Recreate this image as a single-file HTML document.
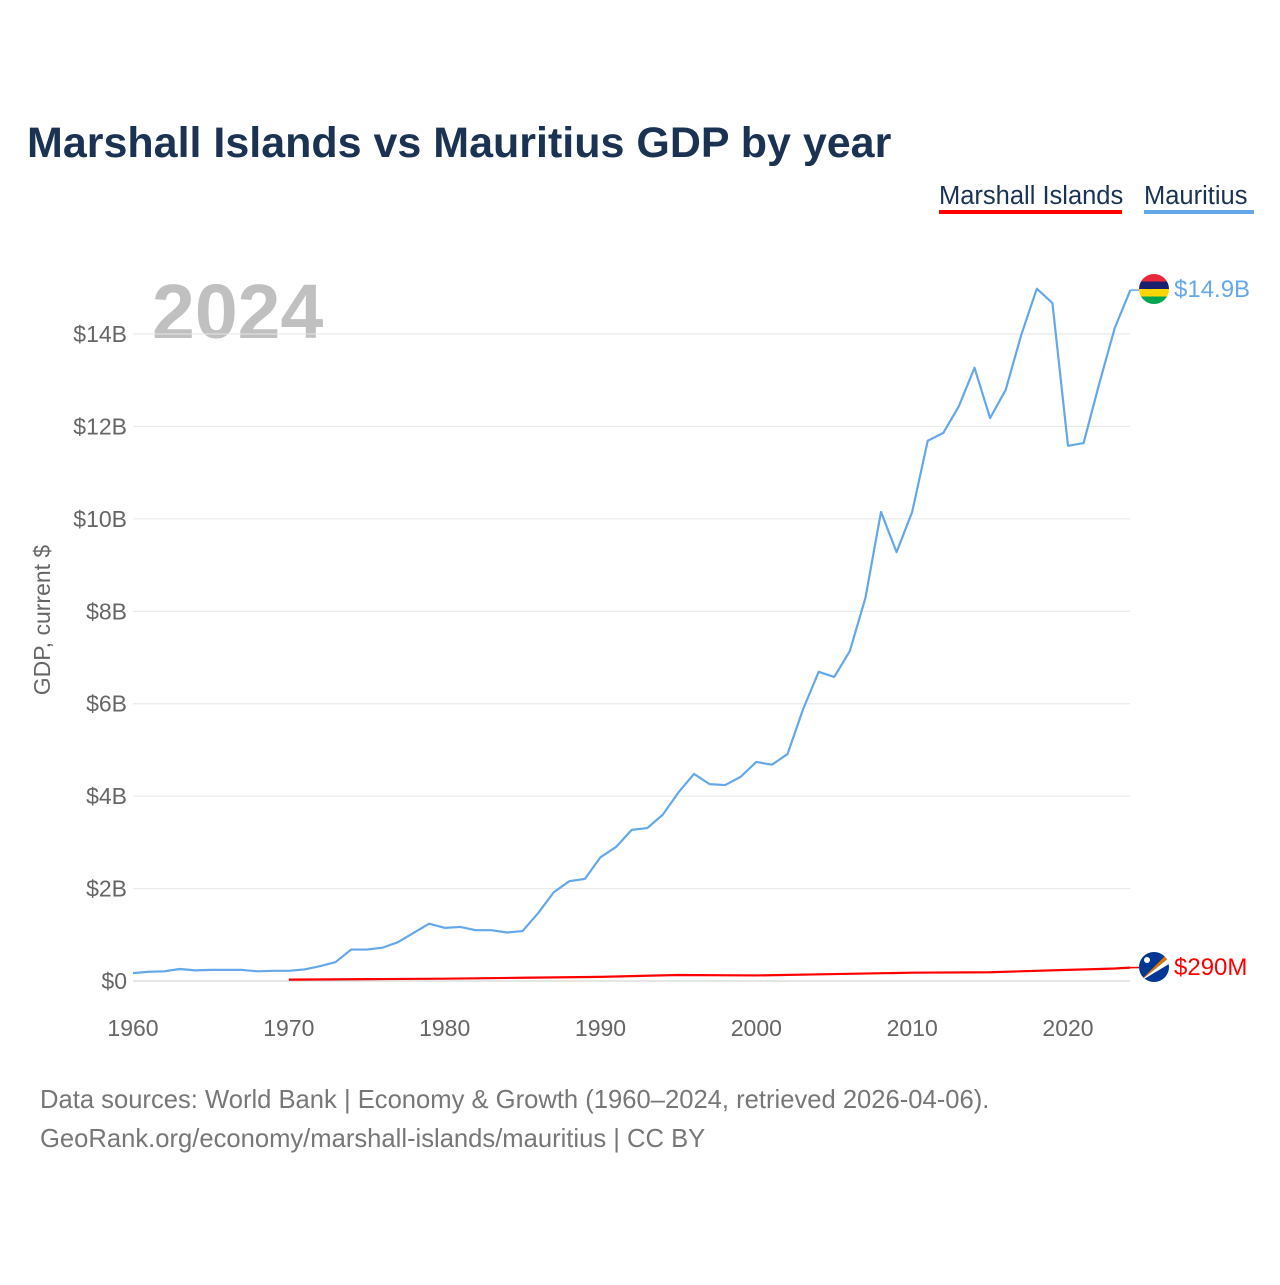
<!DOCTYPE html>
<html><head><meta charset="utf-8">
<style>
body{margin:0;background:#fff;width:1280px;height:1280px;overflow:hidden;font-family:"Liberation Sans",sans-serif}
</style></head>
<body>
<svg id="chart" width="1280" height="1280" viewBox="0 0 1280 1280" xmlns="http://www.w3.org/2000/svg" font-family="Liberation Sans, sans-serif">
<text x="27" y="157" font-size="43" font-weight="bold" fill="#1b3252">Marshall Islands vs Mauritius GDP by year</text>
<g>
<text x="939" y="204" font-size="25.5" fill="#1b3252">Marshall Islands</text>
<rect x="939" y="210" width="183" height="4" fill="#ff0000"/>
<text x="1144" y="204" font-size="25.5" fill="#1b3252">Mauritius</text>
<rect x="1144" y="210" width="110" height="4" fill="#64a8ea"/>
</g>
<text x="152" y="338" font-size="77" font-weight="bold" fill="#c0c0c0">2024</text>
<text transform="translate(50,620) rotate(-90)" text-anchor="middle" font-size="23" fill="#666">GDP, current $</text>
<g id="grid"></g><g id="yticks"></g><g id="xticks"></g><g id="lines"></g>
<g>
<clipPath id="c1"><circle cx="1154" cy="289" r="15"/></clipPath>
<g clip-path="url(#c1)"><rect x="1139" y="274" width="30" height="8" fill="#ea2839"/><rect x="1139" y="281.5" width="30" height="7.5" fill="#1a206d"/><rect x="1139" y="289" width="30" height="7.5" fill="#ffd500"/><rect x="1139" y="296.5" width="30" height="8" fill="#00a551"/></g>
</g>
<g>
<clipPath id="c2"><circle cx="1154" cy="967" r="15"/></clipPath>
<g clip-path="url(#c2)"><rect x="1139" y="952" width="30" height="30" fill="#003893"/><polygon points="1139,982 1169,952 1169,958 1139,982" fill="#dd7500"/><polygon points="1139,982 1169,958 1169,964" fill="#fff"/><circle cx="1147" cy="960" r="3" fill="#fff"/></g>
</g>
<text x="1174" y="297" font-size="24" fill="#64a8ea">$14.9B</text>
<text x="1174" y="975" font-size="24" fill="#ff0000">$290M</text>
<text x="40" y="1108" font-size="25.6" fill="#777">Data sources: World Bank | Economy &amp; Growth (1960–2024, retrieved 2026-04-06).</text>
<text x="40" y="1147" font-size="25.6" fill="#777">GeoRank.org/economy/marshall-islands/mauritius | CC BY</text>
</svg>
<script>
const yTicks=[0,2,4,6,8,10,12,14];
const xTicks=[1960,1970,1980,1990,2000,2010,2020];
const mauritiusYears=[];for(let y=1960;y<=2024;y++)mauritiusYears.push(y);
const mauritiusGDP=[0.17,0.2,0.21,0.26,0.23,0.24,0.24,0.24,0.21,0.22,0.22,0.25,0.32,0.41,0.68,0.68,0.72,0.84,1.04,1.24,1.15,1.17,1.1,1.1,1.05,1.08,1.47,1.92,2.16,2.21,2.68,2.9,3.27,3.31,3.6,4.08,4.48,4.26,4.24,4.42,4.74,4.68,4.91,5.88,6.69,6.58,7.14,8.29,10.15,9.28,10.15,11.69,11.86,12.44,13.27,12.18,12.79,13.98,14.98,14.67,11.58,11.64,12.92,14.13,14.95];
const marshallYears=[1970,1975,1980,1985,1990,1995,2000,2005,2010,2015,2020,2022,2023,2024];
const marshallGDP=[0.03,0.04,0.05,0.07,0.09,0.13,0.12,0.15,0.18,0.19,0.24,0.26,0.27,0.29];
const X=y=>133+(y-1960)*(935/60);
const Y=v=>981-v*(647/14);
const ns="http://www.w3.org/2000/svg";
function mk(t,a,p){const e=document.createElementNS(ns,t);for(const k in a)e.setAttribute(k,a[k]);p.appendChild(e);return e;}
const grid=document.getElementById('grid'),yt=document.getElementById('yticks'),xt=document.getElementById('xticks'),lines=document.getElementById('lines');
yTicks.forEach(v=>{
 const l=mk('line',{x1:133,x2:1130,y1:Y(v),y2:Y(v),stroke:v===0?'#ccc':'#e6e6e6','stroke-width':1},grid);
 
 
 const t=mk('text',{x:127,y:Y(v)+8,'text-anchor':'end','font-size':23,fill:'#666'},yt);
 t.textContent='$'+v+(v?'B':'');
 
 
});
xTicks.forEach(v=>{
 const t=mk('text',{x:X(v),y:1036,'text-anchor':'middle','font-size':23,fill:'#666'},xt);
 t.textContent=v;
 
 
});
function line(xs,vs,c,w,name){
 const p=mk('polyline',{points:xs.map((x,i)=>X(x)+','+Y(vs[i])).join(' '),fill:'none',stroke:c,'stroke-width':w,'stroke-linejoin':'round'},lines);
 
 
}
line(mauritiusYears,mauritiusGDP,'#64a8ea',2.2,'mauritius-line');
line(marshallYears,marshallGDP,'#ff0000',2.2,'marshall-islands-line');
mk('line',{x1:X(2024),x2:1139,y1:Y(14.95),y2:Y(14.95),stroke:'#64a8ea','stroke-width':1.5},lines);
mk('line',{x1:X(2024),x2:1139,y1:Y(0.29),y2:Y(0.29),stroke:'#ff0000','stroke-width':1.5},lines);
</script>
</body></html>
